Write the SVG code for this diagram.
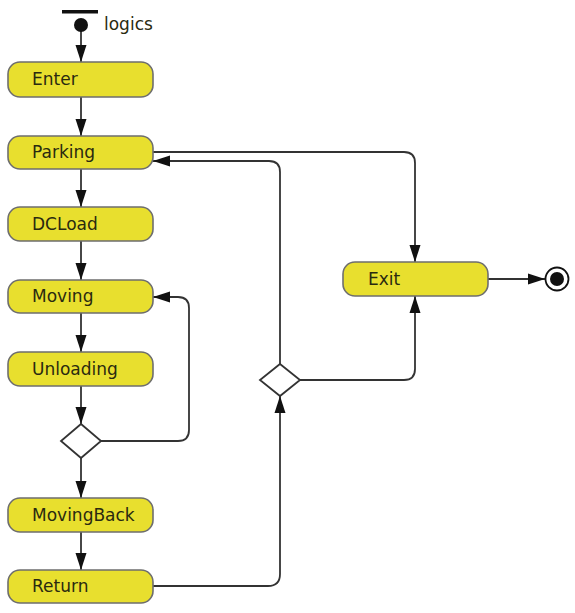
<svg xmlns="http://www.w3.org/2000/svg" width="575" height="613" viewBox="0 0 575 613">
  <style>
    .state rect { fill: #e8df2e; stroke: #6e6e6e; stroke-width: 1.6; }
    .state text, .label { font-family: "DejaVu Sans", Verdana, sans-serif; font-size: 17px; fill: #2a2a10; }
    .decision polygon { fill: #ffffff; stroke: #333333; stroke-width: 1.8; }
    .edge { fill: none; stroke: #333333; stroke-width: 1.8; }
  </style>
  <defs>
    <marker id="arrow" viewBox="0 0 17 12" refX="17" refY="6" markerWidth="17" markerHeight="12" markerUnits="userSpaceOnUse" orient="auto">
      <path d="M0,0.5 L17,6 L0,11.5 Z" fill="#111111"/>
    </marker>
  </defs>
  <rect width="575" height="613" fill="#ffffff"/>

  <!-- connectors -->
  <g id="connectors">
    <path class="edge" d="M81,31 V62" marker-end="url(#arrow)"/>
    <path class="edge" d="M81,97 V136" marker-end="url(#arrow)"/>
    <path class="edge" d="M81,169 V207" marker-end="url(#arrow)"/>
    <path class="edge" d="M81,241 V280" marker-end="url(#arrow)"/>
    <path class="edge" d="M81,313 V352" marker-end="url(#arrow)"/>
    <path class="edge" d="M81,386 V424" marker-end="url(#arrow)"/>
    <path class="edge" d="M81,458 V498" marker-end="url(#arrow)"/>
    <path class="edge" d="M81,532 V570" marker-end="url(#arrow)"/>
    <!-- loop back from decision to Moving -->
    <path class="edge" d="M101,441 H178 Q189,441 189,430 V308 Q189,297 178,297 H153" marker-end="url(#arrow)"/>
    <!-- Return up to second decision -->
    <path class="edge" d="M153,586 H268 Q280,586 280,574 V396" marker-end="url(#arrow)"/>
    <!-- decision back to Parking -->
    <path class="edge" d="M280,364 V172 Q280,161 269,161 H153" marker-end="url(#arrow)"/>
    <!-- Parking to Exit -->
    <path class="edge" d="M153,152 H404 Q415,152 415,163 V262" marker-end="url(#arrow)"/>
    <!-- decision to Exit -->
    <path class="edge" d="M300,380 H404 Q415,380 415,369 V296" marker-end="url(#arrow)"/>
    <!-- Exit to final -->
    <path class="edge" d="M488,279 H545" marker-end="url(#arrow)"/>
  </g>

  <!-- initial node -->
  <g id="initial">
    <rect x="62" y="10" width="36" height="3.5" fill="#111111"/>
    <circle cx="81" cy="25" r="7" fill="#111111"/>
    <text class="label" x="104" y="30">logics</text>
  </g>

  <g id="enter" class="state">
    <rect x="8" y="62" width="145" height="35" rx="12"/>
    <text x="32" y="85">Enter</text>
  </g>
  <g id="parking" class="state">
    <rect x="8" y="136" width="145" height="33" rx="12"/>
    <text x="32" y="158">Parking</text>
  </g>
  <g id="dcload" class="state">
    <rect x="8" y="207" width="145" height="34" rx="12"/>
    <text x="32" y="230">DCLoad</text>
  </g>
  <g id="moving" class="state">
    <rect x="8" y="280" width="145" height="33" rx="12"/>
    <text x="32" y="302">Moving</text>
  </g>
  <g id="unloading" class="state">
    <rect x="8" y="352" width="145" height="34" rx="12"/>
    <text x="32" y="375">Unloading</text>
  </g>
  <g id="decision1" class="decision">
    <polygon points="81,424 101,441 81,458 61,441"/>
  </g>
  <g id="movingback" class="state">
    <rect x="8" y="498" width="145" height="34" rx="12"/>
    <text x="32" y="521">MovingBack</text>
  </g>
  <g id="return" class="state">
    <rect x="8" y="570" width="145" height="33" rx="12"/>
    <text x="32" y="592">Return</text>
  </g>
  <g id="decision2" class="decision">
    <polygon points="280,364 300,380 280,396 260,380"/>
  </g>
  <g id="exit" class="state">
    <rect x="343" y="262" width="145" height="34" rx="12"/>
    <text x="368" y="285">Exit</text>
  </g>
  <g id="final">
    <circle cx="557" cy="279" r="11.5" fill="#ffffff" stroke="#111111" stroke-width="1.8"/>
    <circle cx="557" cy="279" r="7" fill="#111111"/>
  </g>
</svg>
